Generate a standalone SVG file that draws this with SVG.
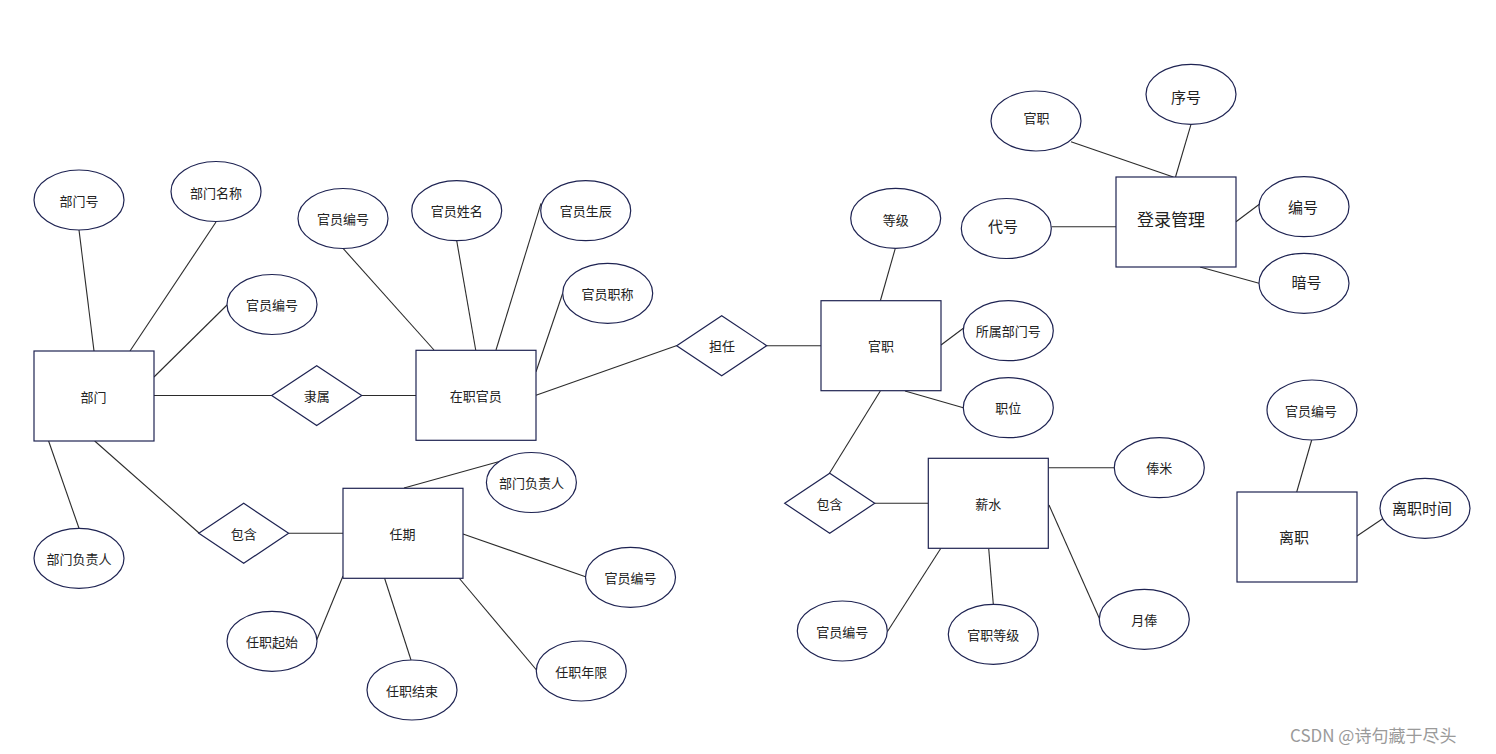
<svg xmlns="http://www.w3.org/2000/svg" width="1496" height="754" viewBox="0 0 1496 754">
<style>
.e{fill:#fff;stroke:#1e2352;stroke-width:1.2}
.r{fill:#fff;stroke:#1e2352;stroke-width:1.2}
.d{fill:#fff;stroke:#1e2352;stroke-width:1.2}
.c line{stroke:#2b2b2b;stroke-width:1.1}
text{font-family:"Noto Sans CJK SC","Noto Sans",sans-serif;font-size:13px;fill:#222;text-anchor:middle;dominant-baseline:central}
.s{font-size:15px}
.big{font-size:17px}
.wm{font-size:17px;fill:#9a9a9a;text-anchor:start}
</style>
<rect width="1496" height="754" fill="#fff"/>
<g class="c" id="connectors">
<line x1="79" y1="230" x2="94" y2="351"/>
<line x1="216" y1="222" x2="130" y2="351"/>
<line x1="227" y1="305" x2="154" y2="377"/>
<line x1="154" y1="395.5" x2="272" y2="395.5"/>
<line x1="361.5" y1="395.5" x2="416" y2="395.5"/>
<line x1="48.6" y1="441" x2="79" y2="528.3"/>
<line x1="94.7" y1="441" x2="199" y2="533"/>
<line x1="288.6" y1="533.3" x2="343" y2="533.3"/>
<line x1="404" y1="488" x2="502" y2="460.7"/>
<line x1="463" y1="534" x2="585.5" y2="576.7"/>
<line x1="343" y1="576" x2="316.7" y2="640"/>
<line x1="384.5" y1="578" x2="411" y2="660"/>
<line x1="459" y1="578" x2="536.5" y2="670"/>
<line x1="343.3" y1="248.7" x2="434" y2="350"/>
<line x1="456.7" y1="240.7" x2="475.7" y2="350"/>
<line x1="541" y1="203.3" x2="496" y2="350"/>
<line x1="562.7" y1="293.3" x2="536" y2="371.7"/>
<line x1="536" y1="395.3" x2="677" y2="345.5"/>
<line x1="766.7" y1="345.7" x2="821" y2="345.7"/>
<line x1="895.3" y1="248.3" x2="880.3" y2="301"/>
<line x1="941" y1="345" x2="966.7" y2="325.7"/>
<line x1="905" y1="391" x2="963.3" y2="407.7"/>
<line x1="880.3" y1="391" x2="829.5" y2="473.3"/>
<line x1="874.7" y1="503.3" x2="928.3" y2="503.3"/>
<line x1="1048.3" y1="467.7" x2="1114.3" y2="467.7"/>
<line x1="1049" y1="505" x2="1099.3" y2="618.3"/>
<line x1="940.7" y1="548.5" x2="887.3" y2="631.7"/>
<line x1="988.7" y1="548.5" x2="993.3" y2="604.3"/>
<line x1="1071" y1="141.7" x2="1173.3" y2="177"/>
<line x1="1191" y1="124.3" x2="1175.5" y2="177"/>
<line x1="1051.5" y1="226.7" x2="1116" y2="226.7"/>
<line x1="1236" y1="221.7" x2="1262.7" y2="201.7"/>
<line x1="1200" y1="267" x2="1259" y2="283.3"/>
<line x1="1311.7" y1="440" x2="1296.7" y2="492"/>
<line x1="1357" y1="536" x2="1383.3" y2="518.3"/>
</g>
<g id="bumen"><rect class="r" x="34" y="351" width="120" height="90"/><text x="93.5" y="396">部门</text></g>
<g id="bumenhao"><ellipse class="e" cx="79" cy="200" rx="45" ry="30"/><text x="79" y="200">部门号</text></g>
<g id="bumenmingcheng"><ellipse class="e" cx="216" cy="191.5" rx="45" ry="30"/><text x="216" y="192">部门名称</text></g>
<g id="guanyuanbianhao1"><ellipse class="e" cx="272" cy="304.5" rx="45" ry="30"/><text x="272" y="304.5">官员编号</text></g>
<g id="bumenfuzeren1"><ellipse class="e" cx="79" cy="558.3" rx="45" ry="30"/><text x="79" y="558.3">部门负责人</text></g>
<g id="lishu"><polygon class="d" points="271.7,395.5 316.7,365.7 361.7,395.5 316.7,425.5"/><text x="316.7" y="395.5">隶属</text></g>
<g id="baohan1"><polygon class="d" points="198.8,533.3 243.7,503.3 288.6,533.3 243.7,563.3"/><text x="243.7" y="533.3">包含</text></g>
<g id="renqi"><rect class="r" x="343" y="488.3" width="120" height="90"/><text x="402.5" y="533.3">任期</text></g>
<g id="bumenfuzeren2"><ellipse class="e" cx="531.4" cy="482.5" rx="45" ry="30"/><text x="531.4" y="482.3">部门负责人</text></g>
<g id="guanyuanbianhao2"><ellipse class="e" cx="630.5" cy="577.3" rx="45" ry="30"/><text x="630.5" y="577.3">官员编号</text></g>
<g id="renzhiqishi"><ellipse class="e" cx="272" cy="641.3" rx="45" ry="30"/><text x="272" y="641.5">任职起始</text></g>
<g id="renzhijieshu"><ellipse class="e" cx="412" cy="690" rx="45" ry="30"/><text x="412" y="690">任职结束</text></g>
<g id="renzhinianxian"><ellipse class="e" cx="581.3" cy="671" rx="45" ry="30"/><text x="581.3" y="671.5">任职年限</text></g>
<g id="zaizhiguanyuan"><rect class="r" x="416" y="350.3" width="120" height="90"/><text x="475.7" y="395.3">在职官员</text></g>
<g id="guanyuanbianhao3"><ellipse class="e" cx="343" cy="218.5" rx="45" ry="30"/><text x="343" y="218.5">官员编号</text></g>
<g id="guanyuanxingming"><ellipse class="e" cx="456.7" cy="210.7" rx="45" ry="30"/><text x="456.7" y="210.7">官员姓名</text></g>
<g id="guanyuanshengchen"><ellipse class="e" cx="585.7" cy="210.7" rx="45" ry="30"/><text x="585.7" y="210.7">官员生辰</text></g>
<g id="guanyuanzhicheng"><ellipse class="e" cx="607.7" cy="293.3" rx="45" ry="30"/><text x="607.5" y="293.3">官员职称</text></g>
<g id="danren"><polygon class="d" points="676.7,345.7 721.7,315.7 766.7,345.7 721.7,375.7"/><text x="722" y="345">担任</text></g>
<g id="guanzhi"><rect class="r" x="821" y="300.7" width="120" height="90"/><text x="881" y="345.7">官职</text></g>
<g id="dengji"><ellipse class="e" cx="895.7" cy="218.3" rx="45" ry="30"/><text x="895.7" y="219">等级</text></g>
<g id="suoshubumenhao"><ellipse class="e" cx="1008.3" cy="330.7" rx="45" ry="30"/><text x="1008.3" y="330.7">所属部门号</text></g>
<g id="zhiwei"><ellipse class="e" cx="1008.3" cy="407.7" rx="45" ry="30"/><text x="1008.3" y="407.7">职位</text></g>
<g id="baohan2"><polygon class="d" points="784.7,503.3 829.7,473.3 874.7,503.3 829.7,533.3"/><text x="829.5" y="503.3">包含</text></g>
<g id="xinshui"><rect class="r" x="928.3" y="458.3" width="120" height="90"/><text x="988.3" y="503.3">薪水</text></g>
<g id="fengmi"><ellipse class="e" cx="1159.3" cy="467.7" rx="45" ry="30"/><text x="1159.3" y="467.7">俸米</text></g>
<g id="yuefeng"><ellipse class="e" cx="1144.3" cy="619.3" rx="45" ry="30"/><text x="1144.3" y="619">月俸</text></g>
<g id="guanyuanbianhao4"><ellipse class="e" cx="842.3" cy="631" rx="45" ry="30"/><text x="842.3" y="631.5">官员编号</text></g>
<g id="guanzhidengji"><ellipse class="e" cx="993.3" cy="634.3" rx="45" ry="30"/><text x="993.3" y="634.3">官职等级</text></g>
<g id="denglu"><rect class="r" x="1116" y="177" width="120" height="90"/><text class="big" x="1171" y="218.5">登录管理</text></g>
<g id="guanzhi2"><ellipse class="e" cx="1036" cy="121" rx="45" ry="30"/><text x="1036.5" y="117.5">官职</text></g>
<g id="xuhao"><ellipse class="e" cx="1191" cy="94.3" rx="45" ry="30"/><text class="s" x="1186" y="96.7">序号</text></g>
<g id="daihao"><ellipse class="e" cx="1006.3" cy="228.5" rx="45" ry="30"/><text class="s" x="1003" y="225.7">代号</text></g>
<g id="bianhao"><ellipse class="e" cx="1304" cy="206.7" rx="45" ry="30"/><text class="s" x="1303" y="206">编号</text></g>
<g id="anhao"><ellipse class="e" cx="1304" cy="283.3" rx="45" ry="30"/><text class="s" x="1306.5" y="281.7">暗号</text></g>
<g id="lizhi"><rect class="r" x="1237" y="492" width="120" height="90"/><text class="s" x="1294" y="536.7">离职</text></g>
<g id="guanyuanbianhao5"><ellipse class="e" cx="1312" cy="410" rx="45" ry="30"/><text x="1311" y="410">官员编号</text></g>
<g id="lizhishijian"><ellipse class="e" cx="1425" cy="508.3" rx="45" ry="30"/><text class="s" x="1422" y="507.7">离职时间</text></g>
<text class="wm" x="1290" y="734">CSDN @诗句藏于尽头</text>
</svg>
